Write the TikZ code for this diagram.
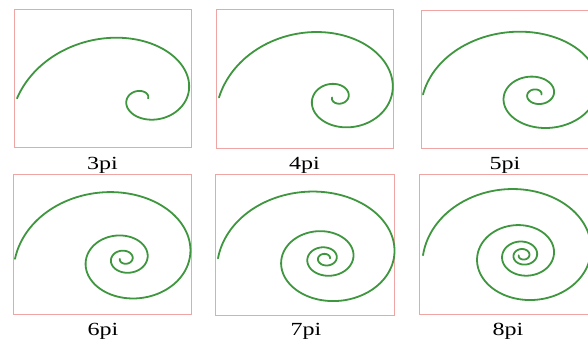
\documentclass[tikz,border=0pt]{standalone}
\usepackage{fontspec}
\setmainfont{Liberation Serif}
\definecolor{spiralgreen}{RGB}{62,150,62}
\definecolor{boxpink}{RGB}{240,165,165}
\begin{document}
\begin{tikzpicture}[x=1pt,y=1pt,
  panel/.style={draw=boxpink,line width=1pt},
  spiral/.style={draw=spiralgreen,line width=1.8pt,line cap=round,line join=round},
  lbl/.style={font=\fontsize{18.5}{18.5}\selectfont,anchor=base,xscale=1.3,inner sep=0pt}]
\useasboundingbox (0,0) rectangle (588,342);
\clip (0,0) rectangle (588,342);
% boxes (pixel coords, y flipped)
\draw[panel] (14,332) rectangle (191,194);
\draw[panel] (216,332) rectangle (393,193);
\draw[panel] (421,331) rectangle (599,193);
\draw[panel] (13,167) rectangle (191,27);
\draw[panel] (215,167) rectangle (394,26);
\draw[panel] (419,167) rectangle (597,27);
% spirals r = R exp(-s/N)
\draw[spiral] plot[domain=0:3*pi,samples=300,variable=\t,smooth]
  ({142.6-125.6*exp(-\t/3)*cos(\t r)},{243.6+97*exp(-\t/3)*sin(\t r)});
\draw[spiral] plot[domain=0:4*pi,samples=360,variable=\t,smooth]
  ({337.2-118.2*exp(-\t/4)*cos(\t r)},{244.5+94*exp(-\t/4)*sin(\t r)});
\draw[spiral] plot[domain=0:5*pi,samples=420,variable=\t,smooth]
  ({536.5-113.5*exp(-\t/5)*cos(\t r)},{247.5+84.3*exp(-\t/5)*sin(\t r)});
\draw[spiral] plot[domain=0:6*pi,samples=480,variable=\t,smooth]
  ({124.6-109.6*exp(-\t/6)*cos(\t r)},{83.1+85.6*exp(-\t/6)*sin(\t r)});
\draw[spiral] plot[domain=0:7*pi,samples=540,variable=\t,smooth]
  ({325.3-107.3*exp(-\t/7)*cos(\t r)},{83.6+82.8*exp(-\t/7)*sin(\t r)});
\draw[spiral] plot[domain=0:8*pi,samples=600,variable=\t,smooth]
  ({523-100*exp(-\t/8)*cos(\t r)},{86.7+80*exp(-\t/8)*sin(\t r)});
% labels
\node[lbl] (l3) at (102.5,172) {3pi};
\node[lbl] (l4) at (304.5,172) {4pi};
\node[lbl] (l5) at (505,172) {5pi};
\node[lbl] (l6) at (103,6) {6pi};
\node[lbl] (l7) at (306,6) {7pi};
\node[lbl] (l8) at (508,6) {8pi};
\end{tikzpicture}
\end{document}
